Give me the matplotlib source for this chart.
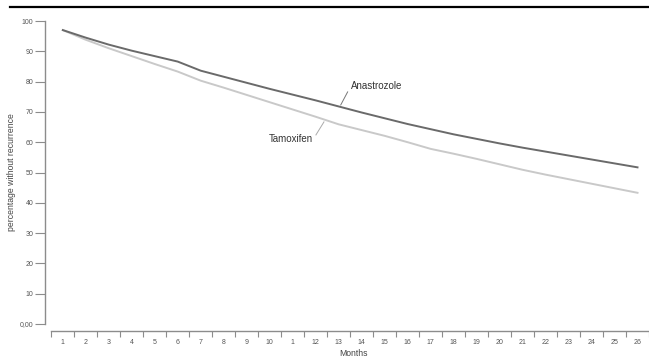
import matplotlib.pyplot as plt
import numpy as np

plt.rcParams['font.family'] = ['Liberation Sans', 'DejaVu Sans']

months = ['1', '2', '3', '4', '5', '6', '7', '8', '9', '10', '1', '12', '13',
          '14', '15', '16', '17', '18', '19', '20', '21', '22', '23', '24', '25', '26']
anastrozole = [97.0, 94.5, 92.2, 90.2, 88.4, 86.6, 83.6, 81.6, 79.6, 77.6, 75.7, 73.8, 71.8,
               69.8, 67.9, 66.0, 64.3, 62.6, 61.1, 59.6, 58.2, 56.9, 55.6, 54.3, 53.0, 51.7]
tamoxifen = [97.0, 93.8, 91.0, 88.4, 85.8, 83.3, 80.3, 78.0, 75.6, 73.2, 70.8, 68.4, 65.9,
             64.0, 62.1, 60.0, 57.8, 56.2, 54.5, 52.7, 50.9, 49.3, 47.8, 46.3, 44.8, 43.3]
y_ticks = [0, 10, 20, 30, 40, 50, 60, 70, 80, 90, 100]
y_labels = ['0,00', '10', '20', '30', '40', '50', '60', '70', '80', '90', '100']

W, H = 649, 359
fig = plt.figure(figsize=(W / 100, H / 100), dpi=100)
ax = fig.add_axes([45 / W, 1 - 324 / H, 1 - 45 / W, 303 / H])

x = np.arange(1, len(months) + 1)
ax.plot(x, tamoxifen, color='#c9c9c9', lw=1.4)
ax.plot(x, anastrozole, color='#6a6a6a', lw=1.4)

ax.set_ylim(0, 100)
ax.set_xlim(0.224, 26.3)

axis_col = '#8c8c8c'
for s in ['top', 'right']:
    ax.spines[s].set_visible(False)
ax.spines['left'].set_bounds(0, 100)
ax.spines['left'].set_color(axis_col)
ax.spines['left'].set_linewidth(1.0)
ax.spines['bottom'].set_position(('outward', 5))
ax.spines['bottom'].set_bounds(0.5, 26.5)
ax.spines['bottom'].set_color(axis_col)
ax.spines['bottom'].set_linewidth(1.0)

ax.set_yticks(y_ticks)
ax.set_yticklabels(y_labels)
ax.tick_params(axis='y', length=7, width=0.8, color=axis_col, labelsize=5,
               labelcolor='#555555', pad=1.5)

ax.set_xticks(np.arange(0.5, 27, 1))
ax.set_xticklabels([])
ax.set_xticks(x, minor=True)
ax.set_xticklabels(months, minor=True)
ax.tick_params(axis='x', which='major', length=4.5, width=0.8, color=axis_col)
ax.tick_params(axis='x', which='minor', length=0, labelsize=5,
               labelcolor='#555555', pad=6)

fig.text(12 / W, 1 - 172 / H, 'percentage without recurrence', fontsize=6.2,
         color='#444444', rotation=90, ha='center', va='center')
fig.text(353 / W, 1 - 354 / H, 'Months', fontsize=6.2, color='#444444',
         ha='center', va='center')

# series labels with short leader lines
ax.text(13.52, 78.6, 'Anastrozole', fontsize=7, color='#333333', ha='left', va='center')
ax.plot([13.09, 13.39], [72.3, 76.6], color='#777777', lw=0.7)
ax.text(10.93, 61.0, 'Tamoxifen', fontsize=7, color='#333333', ha='center', va='center')
ax.plot([12.01, 12.36], [62.4, 66.7], color='#aaaaaa', lw=0.7)

fig.add_artist(plt.Line2D([10 / W, 1], [1 - 7 / H, 1 - 7 / H], color='black', lw=1.6))

fig.savefig('out.png', dpi=100)
